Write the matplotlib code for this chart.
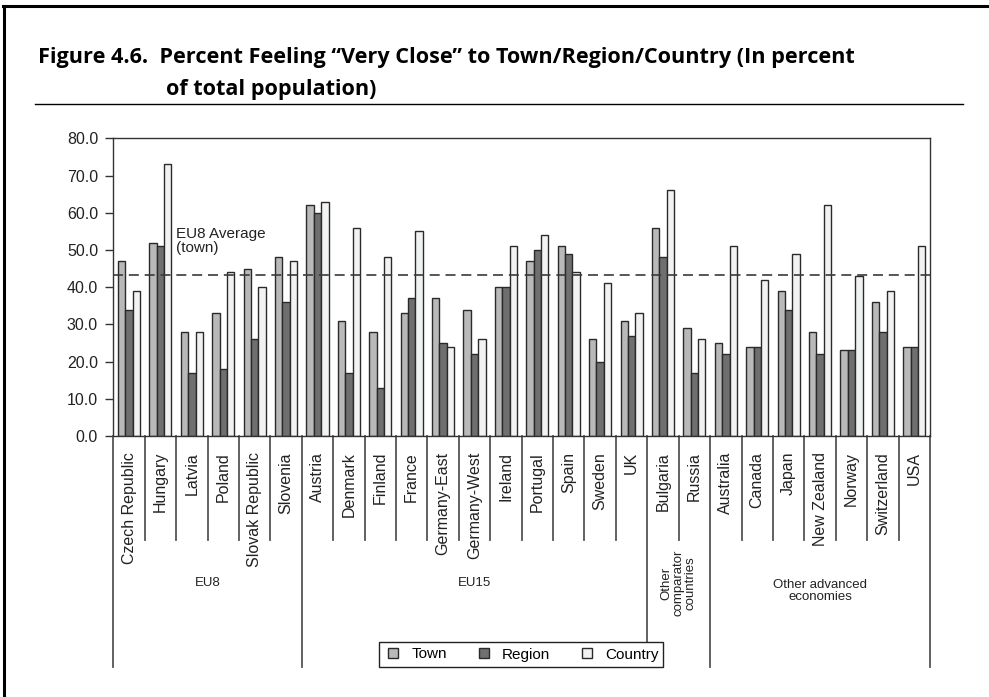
import numpy as np
import matplotlib
matplotlib.use('Agg')
import matplotlib.pyplot as plt
from matplotlib.patches import Patch, Rectangle
from matplotlib.lines import Line2D

countries = ["Czech Republic", "Hungary", "Latvia", "Poland", "Slovak Republic", "Slovenia",
             "Austria", "Denmark", "Finland", "France", "Germany-East", "Germany-West",
             "Ireland", "Portugal", "Spain", "Sweden", "UK",
             "Bulgaria", "Russia",
             "Australia", "Canada", "Japan", "New Zealand", "Norway", "Switzerland", "USA"]
town = [47, 52, 28, 33, 45, 48,
        62, 31, 28, 33, 37, 34, 40, 47, 51, 26, 31,
        56, 29,
        25, 24, 39, 28, 23, 36, 24]
region = [34, 51, 17, 18, 26, 36,
          60, 17, 13, 37, 25, 22, 40, 50, 49, 20, 27,
          48, 17,
          22, 24, 34, 22, 23, 28, 24]
country = [39, 73, 28, 44, 40, 47,
           63, 56, 48, 55, 24, 26, 51, 54, 44, 41, 33,
           66, 26,
           51, 42, 49, 62, 43, 39, 51]
group_names = ["EU8", "EU15", "Other\ncomparator\ncountries", "Other advanced\neconomies"]
group_bounds = [(0, 6), (6, 17), (17, 19), (19, 26)]
eu8_avg = 43.3
yticks = [0, 10, 20, 30, 40, 50, 60, 70, 80]
series_names = ["Town", "Region", "Country"]
colors = ["#b9b9b9", "#6f6f6f", "#f1f3f3"]

plt.rcParams['font.family'] = ['Liberation Sans', 'DejaVu Sans']
W, H = 989, 697
fig = plt.figure(figsize=(W / 100, H / 100), dpi=100)

ax = fig.add_axes([113.3 / W, 1 - 436 / H, (930 - 113.3) / W, (436 - 138.4) / H])
x = np.arange(len(countries))
w = 0.235
for i, (vals, c, name) in enumerate(zip([town, region, country], colors, series_names)):
    ax.bar(x + (i - 1) * w, vals, w, color=c, edgecolor='#2a2a2a', linewidth=1.0, label=name, zorder=2)

ax.axhline(eu8_avg, color='#3a3a3a', lw=1.2, ls=(0, (6, 3.5)), zorder=3)
ax.text(1.5, 52.3, "EU8 Average\n(town)", ha='left', va='center', fontsize=11, color='#222222',
        linespacing=1.0)

ax.set_xlim(-0.5, len(countries) - 0.5)
ax.set_ylim(0, 80)
ax.set_yticks(yticks)
ax.set_yticklabels([f"{v:.1f}" for v in yticks], fontsize=11.5)
ax.set_xticks([])
ax.tick_params(axis='y', direction='out', length=6, width=1, color='#333333', pad=5, labelcolor='#222222')
for s in ax.spines.values():
    s.set_color('#333333')
    s.set_linewidth(1.0)

trans = ax.get_xaxis_transform()
ph = 436 - 138.4
short_y = (436 - 540) / ph
long_y = (436 - 667) / ph
boundaries = {b for g in group_bounds for b in g}
for k in range(len(countries) + 1):
    yb = long_y if k in boundaries else short_y
    ax.add_line(Line2D([k - 0.5, k - 0.5], [0, yb], transform=trans, color='#555555', lw=1.3,
                       clip_on=False))

lab_y = (436 - 452) / ph
for i, name in enumerate(countries):
    ax.text(i, lab_y, name, rotation=90, ha='center', va='top', fontsize=11.5, transform=trans,
            color='#222222')

gy = [(436 - 583) / ph, (436 - 583) / ph, (436 - 583) / ph, (436 - 591) / ph]
for (a, b), name, yy in zip(group_bounds, group_names, gy):
    xc = (a + b - 1) / 2
    if "comparator" in name:
        ax.text(xc, yy, name, rotation=90, ha='center', va='center', fontsize=9.5,
                transform=trans, multialignment='center', linespacing=1.0, color='#222222')
    else:
        ax.text(xc, yy, name, ha='center', va='center', fontsize=9.5, transform=trans,
                multialignment='center', linespacing=1.1, color='#222222')

# legend: frame drawn separately, content centred inside
fig.add_artist(Rectangle((379 / W, 1 - 667 / H), (663 - 379) / W, 25 / H, transform=fig.transFigure,
                         facecolor='white', edgecolor='#222222', lw=1.0, zorder=4))
handles = [Patch(facecolor=c, edgecolor='#2a2a2a', linewidth=1.0) for c in colors]
leg = fig.legend(handles, series_names, loc='center', bbox_to_anchor=(523.5 / W, 1 - 654.5 / H),
                 ncol=3, frameon=False, handlelength=0.65, handleheight=0.65, columnspacing=2.1,
                 handletextpad=0.85, borderpad=0.2, fontsize=11)
leg.set_zorder(5)

# outer frame (left and top) and title rule
fig.add_artist(Line2D([4 / W, 4 / W], [0, 1 - 6 / H], color='black', lw=2.2))
fig.add_artist(Line2D([3 / W, 1], [1 - 6 / H, 1 - 6 / H], color='black', lw=2.2))
fig.add_artist(Line2D([35 / W, 963 / W], [1 - 104 / H, 1 - 104 / H], color='black', lw=1.0))

tfont = dict(family=['Open Sans', 'DejaVu Sans'], fontweight='bold', color='black')
t1 = fig.text(38 / W, 1 - 57 / H, "Figure 4.6.  Percent Feeling \u201cVery Close\u201d to Town/Region/Country (In percent",
              ha='left', va='center', fontsize=14, **tfont)
fig.canvas.draw()
r = fig.canvas.get_renderer()
bb = t1.get_window_extent(r)
fs = 14 * (858 - 38) / bb.width
t1.set_fontsize(fs)
t2 = fig.text(166 / W, 1 - 89 / H, "of total population)", ha='left', va='center', fontsize=fs, **tfont)

fig.savefig("out.png", dpi=100)
